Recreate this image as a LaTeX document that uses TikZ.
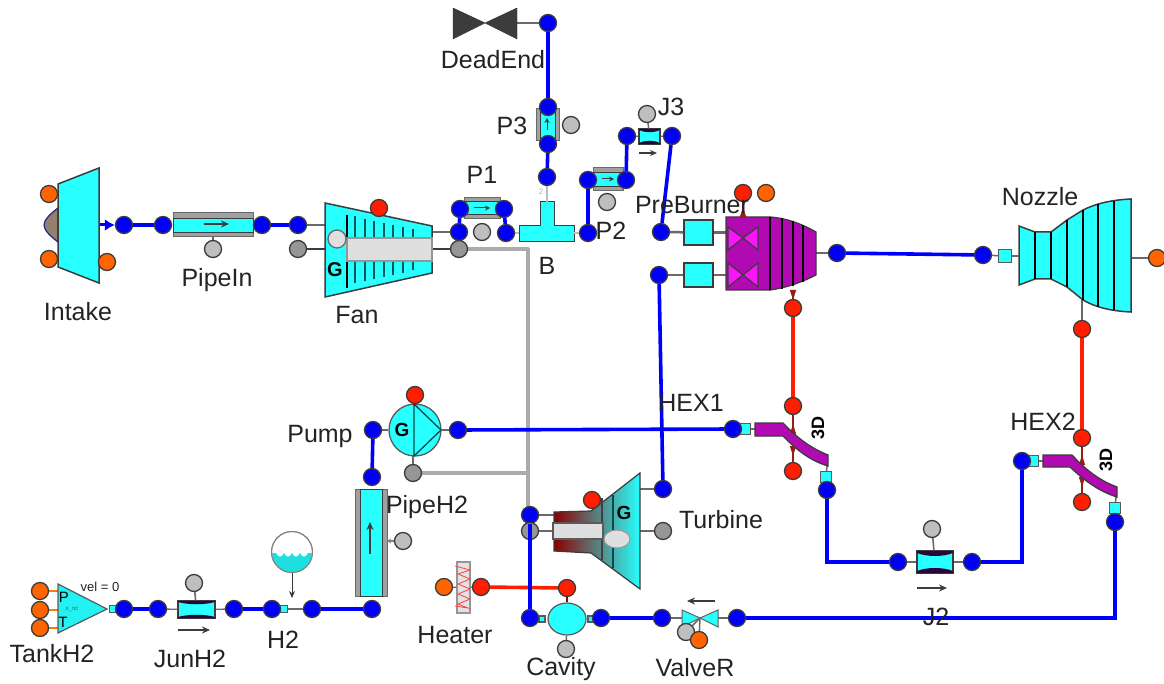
\documentclass[tikz,border=0pt]{standalone}
\usepackage{fontspec}
\setmainfont{Liberation Sans}
\usetikzlibrary{arrows.meta,shapes.geometric,calc}
\pgfdeclarelayer{fore}
\pgfdeclarelayer{top}
\pgfsetlayers{main,fore,top}
\definecolor{cy}{RGB}{40,255,255}
\definecolor{blu}{RGB}{0,0,250}
\definecolor{redp}{RGB}{255,30,0}
\definecolor{orp}{RGB}{255,100,0}
\definecolor{grp}{RGB}{190,190,190}
\definecolor{gdk}{RGB}{150,150,150}
\definecolor{pur}{RGB}{178,10,178}
\definecolor{magb}{RGB}{250,20,250}
\definecolor{darkp}{RGB}{45,5,60}
\definecolor{connr}{RGB}{150,30,20}
\definecolor{edge}{RGB}{60,60,60}
\definecolor{txt}{RGB}{35,35,35}
\tikzset{
 x=1pt,y=-1pt,
 portb/.style={circle,draw=edge,line width=1.3pt,minimum size=17pt,inner sep=0pt},
 bp/.style={portb,fill=blu},
 rp/.style={portb,fill=redp},
 op/.style={portb,fill=orp},
 gp/.style={portb,fill=grp},
 dp/.style={portb,fill=gdk},
 lab/.style={inner sep=0pt,text=txt,font=\fontsize{25}{27}\selectfont},
 bline/.style={draw=blu,line width=3.6pt},
 rline/.style={draw=redp,line width=3.6pt},
 gline/.style={draw=gdk!80!white,line width=3.2pt},
 thin1/.style={draw=gdk!70!black,line width=2.5pt},
 dk/.style={draw=edge,line width=2.5pt},
 body/.style={draw=edge,line width=1.5pt,fill=cy},
 sq/.style={rectangle,draw=gdk!60!black,line width=1.2pt,fill=cy,minimum size=#1,inner sep=0pt},
 flow/.style={draw=edge,line width=1.2pt,-{Stealth[length=8pt,width=7pt]}},
 tk/.style={draw=teal!70!black,line width=1.3pt},
 purp/.style={draw=edge,line width=1.3pt,fill=pur},
 mag/.style={draw=edge,line width=1.2pt,fill=magb},
 pipeb/.style={rectangle,draw=gdk!70!black,line width=1pt,fill=gdk!90!white,inner sep=0pt},
 pipec/.style={rectangle,fill=cy,draw=edge,line width=.6pt,inner sep=0pt},
 jun/.style={rectangle,draw=edge,line width=1.3pt,inner sep=0pt,fill=cy},
 rtip/.style={draw=connr,line width=1.4pt,-{Triangle[length=10pt,width=6pt,reversed]}},
 boldl/.style={inner sep=0pt,font=\fontsize{18}{19}\selectfont\bfseries,text=black}
}
\begin{document}
\begin{tikzpicture}
\useasboundingbox (0,0) rectangle (1164,684);
\fill[white] (0,0) rectangle (1164,684);

% ---- ports
\begin{pgfonlayer}{fore}
\node[op] (inO1) at (49,194) {};
\node[op] (inO2) at (49,259) {};
\node[op] (inO3) at (107,262) {};
\node[bp] (in1) at (124,225) {};
\node[bp] (pi1) at (163,225) {};
\node[bp] (pi2) at (262,225) {};
\node[bp] (fa1) at (298,225) {};
\node[dp] (fa2) at (298,249) {};
\node[gp] (piG) at (213,249) {};
\node[rp] (faR) at (379,208) {};
\node[bp] (fa3) at (459,232) {};
\node[dp] (fa4) at (459,249) {};
\node[bp] (p1a) at (460,209) {};
\node[bp] (p1b) at (504,209) {};
\node[gp] (p1G) at (482,232) {};
\node[bp] (tL) at (506,233) {};
\node[bp] (tR) at (588,233) {};
\node[bp] (tU) at (547,177) {};
\node[bp] (p3a) at (548,144) {};
\node[bp] (p3b) at (548,107) {};
\node[gp] (p3G) at (571,125) {};
\node[bp] (dead) at (548,23) {};
\node[bp] (p2a) at (588,180) {};
\node[bp] (p2b) at (626,180) {};
\node[gp] (p2G) at (607,202) {};
\node[bp] (j3a) at (627,136) {};
\node[bp] (j3b) at (672,136) {};
\node[gp] (j3G) at (647,114) {};
\node[bp] (pb1) at (661,232) {};
\node[bp] (pb2) at (659,275) {};
\node[rp] (pbR) at (743,193) {};
\node[op] (pbO) at (766,193) {};
\node[bp] (pb3) at (837,253) {};
\node[rp] (pb4) at (793,308) {};
\node[bp] (no1) at (983,255) {};
\node[op] (no2) at (1157,258) {};
\node[rp] (no3) at (1082,329) {};
\node[rp] (h1a) at (793,406) {};
\node[rp] (h1b) at (793,471) {};
\node[bp] (h1c) at (733,429) {};
\node[bp] (h1d) at (827,490) {};
\node[rp] (h2a) at (1082,438) {};
\node[rp] (h2b) at (1082,502) {};
\node[bp] (h2c) at (1022,461) {};
\node[bp] (h2d) at (1115,522) {};
\node[bp] (j2a) at (898,562) {};
\node[bp] (j2b) at (972,562) {};
\node[gp] (j2G) at (932,529) {};
\node[bp] (vr1) at (737,618) {};
\node[bp] (vr2) at (662,618) {};
\node[gp] (vrG) at (686,632) {};
\node[op] (vrO) at (699,640) {};
\node[bp] (ca1) at (601,618) {};
\node[bp] (ca2) at (530,618) {};
\node[gp] (caG) at (566,649) {};
\node[rp] (caR) at (567,588) {};
\node[rp] (heR) at (481,587) {};
\node[op] (heO) at (444,587) {};
\node[bp] (tu1) at (530,515) {};
\node[dp] (tu2) at (530,531) {};
\node[bp] (tu3) at (663,489) {};
\node[dp] (tu4) at (663,531) {};
\node[rp] (tuR) at (592,500) {};
\node[bp] (pu1) at (458,430) {};
\node[bp] (pu2) at (373,430) {};
\node[rp] (puR) at (415,395) {};
\node[dp] (puD) at (413,473) {};
\node[bp] (ph1) at (372,477) {};
\node[gp] (phG) at (403,541) {};
\node[bp] (ph2) at (372,609) {};
\node[bp] (h2o) at (312,609) {};
\node[bp] (h2i) at (272,609) {};
\node[bp] (ju2) at (234,609) {};
\node[bp] (ju1) at (158,609) {};
\node[bp] (ta1) at (124,609) {};
\node[gp] (juG) at (194,583) {};
\node[op] (taO1) at (40,591) {};
\node[op] (taO2) at (40,610) {};
\node[op] (taO3) at (40,628) {};
\end{pgfonlayer}

% ---- thin connectors to components
\coordinate (faL1) at (325,225);\coordinate (faL2) at (325,249);
\coordinate (faR1) at (432,232);\coordinate (faR2) at (432,249);
\coordinate (tuL1) at (554,515);\coordinate (tuL2) at (554,531);
\coordinate (tuR1) at (640,489);\coordinate (tuR2) at (640,531);
\coordinate (noR) at (1131,258);\coordinate (noB) at (1082,300);
\coordinate (pbOut) at (816,253);\coordinate (pbBot) at (793,290);
\coordinate (puB) at (413,456);\coordinate (puT) at (415,404);
\coordinate (deadR) at (517,23);
\draw[thin1] (fa1) -- (faL1);
\draw[dk] (fa2) -- (faL2);
\draw[thin1] (fa3) -- (faR1);
\draw[dk] (fa4) -- (faR2);
\draw[thin1] (tu1) -- (tuL1);
\draw[thin1] (tu2) -- (tuL2);
\draw[thin1] (tu3) -- (tuR1);
\draw[thin1] (tu4) -- (tuR2);
\draw[thin1] (no2) -- (noR);
\draw[thin1] (no3) -- (noB);
\draw[thin1] (pb3) -- (pbOut);
\draw[rtip] (pb4) -- (pbBot);
\draw[thin1] (dead) -- (deadR);

% ---- grey shaft lines
\coordinate (sh1) at (528,249);\coordinate (sh2) at (528,473);\coordinate (sh3) at (528,531);
\draw[gline,line join=round] (fa4) -- (sh1) -- (sh3) -- (tu2);
\draw[gline] (puD) -- (sh2);

% ---- Intake
\draw[draw=edge!60!blue,line width=1.2pt,fill=gray!70!brown] (58,208) .. controls (50,214) and (44,220) .. (44,225) .. controls (44,230) and (50,236) .. (58,242) -- cycle;
\draw[body] (58,184) -- (99,168) -- (99,283) -- (58,267) -- cycle;
\draw[blu,line width=3pt,-{Latex[length=10pt,width=12pt]}] (100,225) -- (in1);

% ---- PipeIn
\node[pipeb,minimum width=80pt,minimum height=24pt] (pipeInB) at (213,225) {};
\node[pipec,minimum width=80pt,minimum height=14pt] (pipeInC) at (213,225) {};
\draw[flow] (204,224) -- (229,224);
\draw[thin1,line width=1.5pt] (piG) -- (pipeInB);
\draw[bline] (in1) -- (pi1);
\draw[bline] (pi2) -- (fa1);

% ---- Fan
\draw[body] (325,203) -- (432,226) -- (432,273) -- (325,297) -- cycle;
\draw[draw=black,line width=1.3pt] (347,215) -- (347,288);
\foreach \xx in {355,365,374,384,393,403,413}{
 \pgfmathsetmacro{\ta}{203+(\xx-325)*0.215+7}
 \pgfmathsetmacro{\tb}{297-(\xx-325)*0.224-7}
 \draw[tk] (\xx,\ta) -- (\xx,238);
 \draw[tk] (\xx,261) -- (\xx,\tb);
}
\node[rectangle,draw=gdk,line width=1.3pt,fill=gray!25,minimum width=85pt,minimum height=23pt,inner sep=0pt] (fanShaft) at (389.5,249.5) {};
\node[circle,draw=gdk!70!black,line width=1.3pt,fill=gray!25,minimum size=18pt,inner sep=0pt] (fanHub) at (337,239) {};
\node[boldl,font=\fontsize{20}{20}\selectfont\bfseries] (fanG) at (335,270) {G};

% ---- P1
\node[pipeb,minimum width=36pt,minimum height=21pt] (p1B) at (482,208) {};
\node[pipec,minimum width=36pt,minimum height=13pt] (p1C) at (482,208) {};
\draw[flow,line width=1pt,-{Stealth[length=5pt,width=5pt]}] (474,208) -- (490,208);

% ---- DeadEnd
\draw[draw=edge!70!black,fill=edge] (453,8) -- (485,23) -- (517,8) -- (517,39) -- (485,23) -- (453,39) -- cycle;

% ---- P3
\node[pipeb,minimum width=23pt,minimum height=32pt] (p3B) at (547.5,125) {};
\node[pipec,minimum width=15pt,minimum height=32pt] (p3C) at (547.5,125) {};
\draw[flow,line width=1pt,-{Stealth[length=5pt,width=5pt]}] (547,130) -- (547,118);

% ---- Tee B
\draw[body,line width=1pt] (540,202) -- (554,202) -- (554,226) -- (574,226) -- (574,242) -- (519,242) -- (519,226) -- (540,226) -- cycle;
\coordinate (teeT) at (547,202);\coordinate (teeL) at (519,233);\coordinate (teeR) at (574,233);
\draw[thin1,line width=1.5pt,draw=gray!50] (tU) -- (teeT);
\draw[thin1,line width=1.2pt,draw=gray!50] (tL) -- (teeL);
\draw[thin1,line width=1.2pt,draw=gray!50] (tR) -- (teeR);
\node[inner sep=0pt,text=gray!60,font=\fontsize{8}{8}\selectfont] (teeN) at (541,192) {2};

% ---- P2
\node[pipeb,minimum width=30pt,minimum height=23pt] (p2B) at (608,179.5) {};
\node[pipec,minimum width=30pt,minimum height=14pt] (p2C) at (608,179.5) {};
\draw[flow,line width=1pt,-{Stealth[length=5pt,width=5pt]}] (602,179) -- (614,179);

% ---- J3
\node[jun,minimum width=21pt,minimum height=15pt] (j3R) at (649.5,136.5) {};
\fill[darkp] (639,129) -- (660,129) -- (660,130) .. controls (654,133) and (645,133) .. (639,130) -- cycle;
\fill[darkp] (639,144) -- (660,144) -- (660,143) .. controls (654,140) and (645,140) .. (639,143) -- cycle;
\draw[thin1,line width=1.4pt] (j3G) -- (j3R);
\draw[thin1,line width=1.2pt] (j3a) -- (j3R);
\draw[thin1,line width=1.2pt] (j3b) -- (j3R);
\coordinate (j3f1) at (639,153);\coordinate (j3f2) at (657,153);
\draw[flow,-{Stealth[length=7pt,width=6pt]}] (j3f1) -- (j3f2);

% ---- PreBurner
\node[sq=29pt,minimum height=25pt,draw=edge] (pbC1) at (698.5,232.5) {};
\node[sq=29pt,minimum height=24pt,draw=edge] (pbC2) at (698.5,275) {};
\coordinate (pbI1) at (726,232.5);\coordinate (pbI2) at (726,275);
\draw[thin1] (pb1) -- (pbC1);
\draw[thin1] (pb2) -- (pbC2);
\draw[thin1] (pbC1) -- (pbI1);
\draw[thin1] (pbC2) -- (pbI2);
\draw[purp] (726,217) -- (770,217) .. controls (785,218) and (800,223) .. (816,232) -- (816,275) .. controls (800,283) and (785,288) .. (770,290) -- (726,290) -- cycle;
\foreach \xx/\ya/\yb in {770/217/290,782/218/289,793/221/286,803/225/282}
 \draw[draw=black,line width=1.3pt] (\xx,\ya) -- (\xx,\yb);
\draw[mag] (728,227) -- (743,238) -- (758,227) -- (758,250) -- (743,238) -- (728,250) -- cycle;
\draw[mag] (728,263) -- (743,275) -- (758,263) -- (758,287) -- (743,275) -- (728,287) -- cycle;
\coordinate (pbRt) at (743,217);
\draw[rtip] (pbR) -- (pbRt);

% ---- Nozzle
\draw[body] (1019,226) -- (1035,232) -- (1051,232) -- (1067,220) -- (1083,210) .. controls (1095,204) and (1110,200) .. (1131,199) -- (1131,312) .. controls (1110,311) and (1095,307) .. (1083,300) -- (1067,287) -- (1051,279) -- (1035,279) -- (1019,285) -- cycle;
\foreach \xx/\ya/\yb in {1035/232/279,1051/232/279,1067/220/287,1083/210/300,1098/204/307,1114/201/310}
 \draw[draw=black,line width=1.3pt] (\xx,\ya) -- (\xx,\yb);
\node[sq=13pt] (noS) at (1005,256) {};
\coordinate (noL) at (1019,256);
\draw[thin1] (noS) -- (noL);
\draw[thin1,line width=1.5pt] (no1) -- (noS);
\draw[bline] (pb3) -- (no1);
\draw[rline] (pb4) -- (h1a);
\draw[rline] (no3) -- (h2a);

% ---- HEX1
\node[sq=11pt] (h1s1) at (745,429) {};
\node[sq=11pt] (h1s2) at (826,477) {};
\coordinate (h1e1) at (755,429);\coordinate (h1e2) at (827,466);
\draw[thin1,line width=1.5pt] (h1s1) -- (h1e1);
\draw[thin1,line width=1.5pt] (h1s2) -- (h1e2);
\coordinate (h1t1) at (793,434);\coordinate (h1t2) at (793,446);
\draw[rtip] (h1a) -- (h1t1);
\draw[rtip] (h1b) -- (h1t2);
\draw[purp] (755,423) -- (783,423) .. controls (795,436) and (810,448) .. (828,455) -- (828,466) .. controls (808,460) and (795,448) .. (783,436) -- (755,436) -- cycle;
\node[boldl,rotate=90] (h1lab) at (818,428) {3D};

% ---- HEX2
\node[sq=11pt] (h2s1) at (1033,461) {};
\node[sq=11pt] (h2s2) at (1115,508) {};
\coordinate (h2e1) at (1043,461);\coordinate (h2e2) at (1116,497);
\draw[thin1,line width=1.5pt] (h2s1) -- (h2e1);
\draw[thin1,line width=1.5pt] (h2s2) -- (h2e2);
\coordinate (h2t1) at (1082,465);\coordinate (h2t2) at (1082,477);
\draw[rtip] (h2a) -- (h2t1);
\draw[rtip] (h2b) -- (h2t2);
\draw[purp] (1043,455) -- (1072,455) .. controls (1084,468) and (1098,480) .. (1117,487) -- (1117,497) .. controls (1098,491) and (1084,480) .. (1070,467) -- (1043,467) -- cycle;
\node[boldl,rotate=90] (h2lab) at (1106,460) {3D};

% ---- J2
\node[jun,minimum width=36pt,minimum height=22pt] (j2R) at (935,562) {};
\fill[darkp] (917,551) -- (953,551) -- (953,553) .. controls (943,557) and (927,557) .. (917,553) -- cycle;
\fill[darkp] (917,573) -- (953,573) -- (953,571) .. controls (943,567) and (927,567) .. (917,571) -- cycle;
\draw[thin1,line width=1.3pt] (j2a) -- (j2R);
\draw[thin1,line width=1.3pt] (j2b) -- (j2R);
\draw[thin1,line width=1.6pt] (j2G) -- (j2R);
\coordinate (j2f1) at (917,588);\coordinate (j2f2) at (947,588);
\draw[flow] (j2f1) -- (j2f2);

% ---- Turbine
\shade[left color=red!55!black,middle color=teal!60!black,right color=cy,draw=edge,line width=1.2pt] (554,512) -- (591,511) -- (640,473) -- (640,589) -- (591,553) -- (554,551) -- cycle;
\draw[draw=black!75,line width=1.2pt] (602,498) -- (602,560);
\draw[draw=teal!60!black,line width=1.2pt] (613,495) -- (613,568);
\node[rectangle,draw=gdk!60!black,line width=1.2pt,fill=gray!25,minimum width=50pt,minimum height=16pt,inner sep=0pt] (tuShaft) at (578,531) {};
\node[ellipse,draw=gdk,line width=1pt,fill=gray!25,minimum width=26pt,minimum height=18pt,inner sep=0pt] (tuHub) at (617,539) {};
\node[boldl,font=\fontsize{19}{19}\selectfont\bfseries] (tuG) at (624,513) {G};

% ---- Pump
\node[circle,draw=gdk!60!black,line width=1.3pt,fill=cy,minimum size=52pt,inner sep=0pt] (pump) at (415,430) {};
\draw[draw=teal!60!black,line width=1.3pt,line join=round] (414,404) -- (414,456) -- (441,430) -- cycle;
\node[boldl,font=\fontsize{19}{19}\selectfont\bfseries] (puG) at (402,430) {G};
\draw[thin1,line width=1.5pt] (pu1) -- (pump);
\draw[thin1,line width=1.5pt] (pu2) -- (pump);
\draw[thin1] (puD) -- (puB);
\draw[draw=red!60!black,line width=1.5pt] (puR) -- (puT);

% ---- PipeH2
\node[pipeb,minimum width=32pt,minimum height=107pt] (phB) at (371,542.5) {};
\node[pipec,minimum width=22pt,minimum height=107pt] (phC) at (371,542.5) {};
\draw[flow] (370,554) -- (370,522);
\draw[gray,line width=1.5pt,{Stealth[length=4pt,width=5pt]}-] (387,541) -- (phG);

% ---- Heater
\node[rectangle,draw=gdk,line width=1.2pt,fill=gray!22,minimum width=13pt,minimum height=51pt,inner sep=0pt] (heat) at (463.5,587.5) {};
\draw[draw=red!75,line width=.8pt] (455,566) -- (470,570) -- (458,574) -- (470,579) -- (458,584) -- (470,589) -- (458,594) -- (470,599) -- (458,604) -- (468,608) -- (455,606);
\draw[thin1,line width=1.3pt] (heO) -- (heat);
\draw[thin1,line width=1.3pt] (heR) -- (heat);

% ---- Cavity
\node[sq=6pt] (cs1) at (542,619) {};
\node[sq=6pt] (cs2) at (591,619) {};
\node[ellipse,draw=gdk!60!black,line width=1.2pt,fill=cy,minimum width=38pt,minimum height=32pt,inner sep=0pt] (cav) at (567,619) {};
\draw[thin1,line width=1.5pt] (caG) -- (cav);
\draw[draw=red!60!black,line width=1.5pt] (caR) -- (cav);
\draw[thin1,line width=1.3pt] (ca2) -- (cs1);
\draw[thin1,line width=1.3pt] (ca1) -- (cs2);
\draw[rline] (heR) -- (caR);

% ---- ValveR
\draw[draw=edge!80,line width=1pt,fill=cy] (682,610) -- (700,618) -- (718,610) -- (718,627) -- (700,618) -- (682,627) -- cycle;
\coordinate (vrL) at (682,618);\coordinate (vrRt) at (718,618);\coordinate (vrM) at (700,618);
\draw[thin1,line width=1.3pt] (vr2) -- (vrL);
\draw[thin1,line width=1.3pt] (vr1) -- (vrRt);
\draw[thin1,line width=1.5pt] (vrG) -- (vrM);
\draw[thin1,line width=1.5pt] (vrO) -- (vrM);
\coordinate (vrf1) at (715,601);\coordinate (vrf2) at (687,601);
\draw[flow] (vrf1) -- (vrf2);

% ---- H2 & junction
\node[sq=7pt] (h2S) at (284,609) {};
\draw[thin1,line width=1.3pt] (h2S) -- (h2o);
\draw[thin1,line width=1.3pt] (h2i) -- (h2S);
\node[circle,draw=gray,line width=1pt,fill=white,minimum size=41pt,inner sep=0pt] (res) at (292,552) {};
\begin{scope}
\clip (292,552) circle (20);
\fill[cy!75!teal] (270,553) -- (276,553) .. controls (278,558) and (282,558) .. (284,553) .. controls (286,558) and (290,558) .. (292,553) .. controls (294,558) and (298,558) .. (300,553) .. controls (302,558) and (306,558) .. (308,553) -- (315,553) -- (315,575) -- (270,575) -- cycle;
\end{scope}
\node[circle,draw=gray,line width=1pt,minimum size=41pt,inner sep=0pt] (resO) at (292,552) {};
\coordinate (resA) at (292,598);
\draw[flow,line width=1pt,-{Stealth[length=7pt,width=6pt]}] (res) -- (resA);

\node[jun,minimum width=37pt,minimum height=17pt] (juR) at (196.5,609.5) {};
\fill[darkp] (178,601) -- (215,601) -- (215,602) .. controls (205,605) and (188,605) .. (178,602) -- cycle;
\fill[darkp] (178,618) -- (215,618) -- (215,617) .. controls (205,614) and (188,614) .. (178,617) -- cycle;
\draw[thin1,line width=1.3pt] (ju1) -- (juR);
\draw[thin1,line width=1.3pt] (ju2) -- (juR);
\draw[thin1,line width=1.6pt] (juG) -- (juR);
\coordinate (juf1) at (178,630);\coordinate (juf2) at (210,630);
\draw[flow] (juf1) -- (juf2);

% ---- TankH2
\coordinate (tk1) at (58,591);\coordinate (tk2) at (58,610);\coordinate (tk3) at (58,628);
\draw[orp!85!yellow,line width=2pt] (taO1) -- (tk1);
\draw[orp!85!yellow,line width=2pt] (taO2) -- (tk2);
\draw[orp!85!yellow,line width=2pt] (taO3) -- (tk3);
\draw[draw=gdk!60!black,line width=1.2pt,fill=cy!90!teal] (58,584) -- (107,609) -- (58,633) -- cycle;
\node[inner sep=0pt,font=\fontsize{15}{15}\selectfont,text=black] (tkP) at (64,597) {P};
\node[inner sep=0pt,font=\fontsize{15}{15}\selectfont,text=black] (tkT) at (63,622) {T};
\node[inner sep=0pt,font=\fontsize{6}{6}\selectfont,text=teal] (tkX) at (72,609) {x\_nc};
\node[sq=7pt] (tkS) at (113,609) {};
\node[inner sep=0pt,text=txt,font=\fontsize{13}{13}\selectfont] (tkV) at (100,587) {vel = 0};

% ---- blue lines
\draw[bline] (ta1) -- (ju1);
\draw[bline] (ju2) -- (h2i);
\draw[bline] (h2o) -- (ph2);
\draw[bline] (ph1) -- (pu2);
\draw[bline] (pu1) -- (h1c);
\draw[bline] (p1a) -- (fa3);
\draw[bline] (p1b) -- (tL);
\draw[bline] (dead) -- (p3b);
\draw[bline] (p3a) -- (tU);
\draw[bline] (p2a) -- (tR);
\draw[bline] (p2b) -- (j3a);
\draw[bline] (j3b) -- (pb1);
\draw[bline] (pb2) -- (tu3);
\draw[bline,line join=miter] (h1d) |- (j2a);
\draw[bline,line join=miter] (j2b) -| (h2c);
\draw[bline,line join=miter] (h2d) |- (vr1);
\draw[bline] (vr2) -- (ca1);

% the blue riser passes over the grey turbine port
\begin{pgfonlayer}{top}
\draw[bline] (tu1) -- (ca2);

% ---- labels
\node[lab] (lbDead) at (493,60) {DeadEnd};
\node[lab] (lbP3) at (512,126) {P3};
\node[lab] (lbP1) at (482,175) {P1};
\node[lab] (lbJ3) at (671,107) {J3};
\node[lab] (lbP2) at (611,231) {P2};
\node[lab] (lbB) at (547,266) {B};
\node[lab] (lbPre) at (692,205) {PreBurner};
\node[lab] (lbNoz) at (1040,197) {Nozzle};
\node[lab] (lbInt) at (78,312) {Intake};
\node[lab] (lbPin) at (217,280) {PipeIn};
\node[lab] (lbFan) at (357,315) {Fan};
\node[lab] (lbHx1) at (691,403) {HEX1};
\node[lab] (lbHx2) at (1043,422) {HEX2};
\node[lab] (lbPmp) at (320,436) {Pump};
\node[lab] (lbPH2) at (427,507) {PipeH2};
\node[lab] (lbTur) at (721,520) {Turbine};
\node[lab] (lbJ2) at (936,617) {J2};
\node[lab] (lbTk) at (52,654) {TankH2};
\node[lab] (lbJu) at (190,659) {JunH2};
\node[lab] (lbH2) at (283,640) {H2};
\node[lab] (lbHt) at (455,635) {Heater};
\node[lab] (lbCav) at (561,669) {Cavity};
\node[lab] (lbVal) at (695,668) {ValveR};
\end{pgfonlayer}
\end{tikzpicture}
\end{document}
